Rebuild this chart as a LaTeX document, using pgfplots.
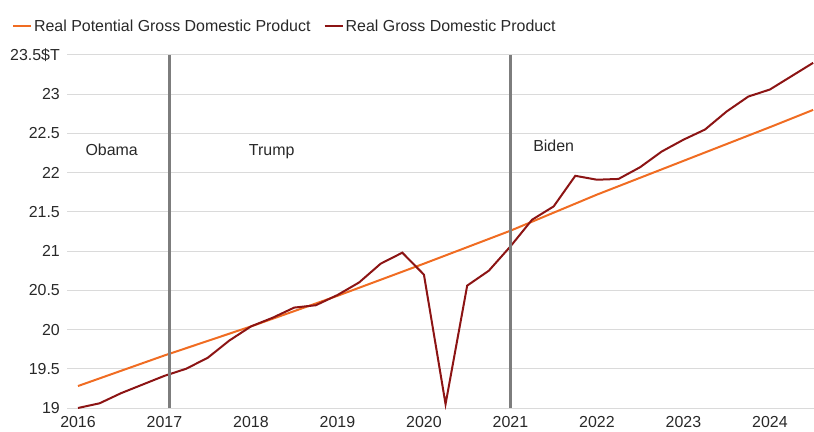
\documentclass[border=0pt]{standalone}
\usepackage{pgfplots}
\pgfplotsset{compat=1.18}
\usepackage{fontspec}
\setmainfont{Liberation Sans}
\definecolor{potorange}{RGB}{240,108,34}
\definecolor{gdpred}{RGB}{140,20,20}
\definecolor{gridgray}{RGB}{218,218,218}
\definecolor{vgray}{RGB}{125,125,125}
\definecolor{txt}{RGB}{40,40,40}
\begin{document}
\begin{tikzpicture}
\useasboundingbox (0,0) rectangle (814bp,432bp);
\begin{axis}[
  at={(67bp,24bp)}, anchor=south west,
  scale only axis, width=747bp, height=353bp,
  xmin=2015.873, xmax=2024.51,
  ymin=19, ymax=23.5,
  axis line style={draw=none},
  major tick length=0pt,
  xtick={2016,2017,2018,2019,2020,2021,2022,2023,2024},
  xticklabels={2016,2017,2018,2019,2020,2021,2022,2023,2024},
  ytick={19,19.5,20,20.5,21,21.5,22,22.5,23,23.5},
  yticklabels={19,19.5,20,20.5,21,21.5,22,22.5,23,23.5\$T},
  ymajorgrids, grid style={gridgray, line width=1bp},
  tick label style={font=\fontsize{16}{19}\selectfont, text=txt},
  xticklabel style={inner sep=0pt, anchor=north, yshift=-8bp},
  yticklabel style={inner sep=0pt, anchor=east, xshift=-7bp},
  clip=false,
  legend columns=2,
  legend style={draw=none, fill=none, at={(-0.074,1.082)}, anchor=west,
    font=\fontsize{16}{19}\selectfont, text=txt, inner sep=0pt,
    /tikz/every even column/.append style={column sep=11bp},
    nodes={inner sep=2bp}},
  legend cell align=left,
  legend image code/.code={\draw[#1, line width=2.2bp] (0bp,0bp) -- (18bp,0bp);},
]
\addplot[potorange, line width=2bp] coordinates {
(2016,19.28) (2017,19.67) (2018,20.04) (2019,20.43) (2020,20.84)
(2021,21.26) (2022,21.72) (2023,22.15) (2024,22.58) (2024.5,22.80)};
\addlegendentry{Real Potential Gross Domestic Product}
\addplot[gdpred, line width=2bp] coordinates {
(2016.00,19.00) (2016.25,19.06) (2016.50,19.19) (2016.75,19.30)
(2017.00,19.41) (2017.25,19.50) (2017.50,19.64) (2017.75,19.86)
(2018.00,20.04) (2018.25,20.15) (2018.50,20.28) (2018.75,20.31)
(2019.00,20.44) (2019.25,20.60) (2019.50,20.84) (2019.75,20.98)
(2020.00,20.70) (2020.25,19.05) (2020.50,20.56) (2020.75,20.75)
(2021.00,21.06) (2021.25,21.40) (2021.50,21.57) (2021.75,21.96)
(2022.00,21.91) (2022.25,21.92) (2022.50,22.07) (2022.75,22.27)
(2023.00,22.42) (2023.25,22.55) (2023.50,22.78) (2023.75,22.97)
(2024.00,23.06) (2024.25,23.23) (2024.50,23.40)};
\addlegendentry{Real Gross Domestic Product}
\addplot[vgray, line width=3bp, forget plot] coordinates {(2017.06,19) (2017.06,23.5)};
\addplot[vgray, line width=3bp, forget plot] coordinates {(2021.0,19) (2021.0,23.5)};
\node[text=txt, font=\fontsize{16}{19}\selectfont] at (axis cs:2016.39,22.29) {Obama};
\node[text=txt, font=\fontsize{16}{19}\selectfont] at (axis cs:2018.24,22.27) {Trump};
\node[text=txt, font=\fontsize{16}{19}\selectfont] at (axis cs:2021.50,22.34) {Biden};
\end{axis}
\end{tikzpicture}
\end{document}
